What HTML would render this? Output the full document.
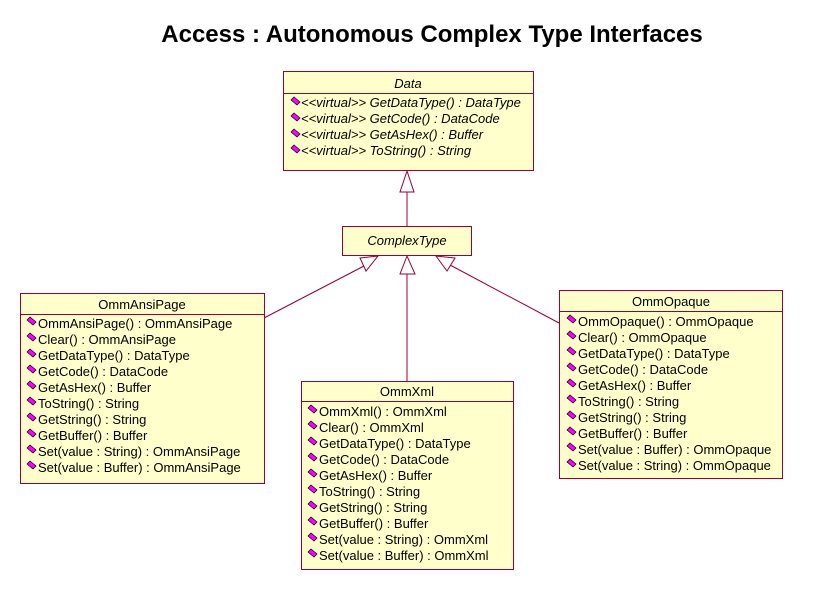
<!DOCTYPE html>
<html><head><style>
body{margin:0;background:#fff;}
svg text{font-family:"Liberation Sans",Arial,sans-serif;font-size:13px;fill:#000;}
</style></head><body>
<svg width="822" height="599" xmlns="http://www.w3.org/2000/svg">
<defs>
<g id="d"><polygon points="-5,-2 -2,-5 4,0 1,3" fill="#ff00ff" stroke="#000" stroke-width="0.7"/></g>
</defs>
<text x="432" y="42" text-anchor="middle" style="font-size:24px;font-weight:bold">Access : Autonomous Complex Type Interfaces</text>
<g stroke="#990033" fill="none" stroke-width="1">
<line x1="407" y1="192" x2="407" y2="226"/>
<line x1="407" y1="274" x2="407" y2="381"/>
<line x1="364" y1="266" x2="264" y2="318"/>
<line x1="450" y1="265" x2="559" y2="323"/>
<polygon points="407,171 400,192 414,192" fill="#fff"/>
<polygon points="407,256 400,274 415,274" fill="#fff"/>
<polygon points="360,258 378,256 366,271" fill="#fff"/>
<polygon points="436,256 455,258 447,271" fill="#fff"/>
</g>
<g stroke="#990033" fill="#ffffcc">
<rect x="283.5" y="71.5" width="250" height="99"/>
<rect x="342.5" y="226.5" width="129" height="29"/>
<rect x="20.5" y="293.5" width="244" height="190"/>
<rect x="301.5" y="381.5" width="212" height="188"/>
<rect x="559.5" y="290.5" width="223" height="188"/>
<line x1="283" y1="93.5" x2="534" y2="93.5"/>
<line x1="20" y1="314.5" x2="265" y2="314.5"/>
<line x1="301" y1="401.5" x2="514" y2="401.5"/>
<line x1="559" y1="311.5" x2="783" y2="311.5"/>
</g>
<g>
<text x="408" y="88" text-anchor="middle" style="font-style:italic">Data</text>
<text x="407" y="245" text-anchor="middle" style="font-style:italic">ComplexType</text>
<use href="#d" x="296" y="102"/><text x="301" y="107" style="font-style:italic">&lt;&lt;virtual&gt;&gt; GetDataType() : DataType</text>
<use href="#d" x="296" y="118"/><text x="301" y="123" style="font-style:italic">&lt;&lt;virtual&gt;&gt; GetCode() : DataCode</text>
<use href="#d" x="296" y="134"/><text x="301" y="139" style="font-style:italic">&lt;&lt;virtual&gt;&gt; GetAsHex() : Buffer</text>
<use href="#d" x="296" y="150"/><text x="301" y="155" style="font-style:italic">&lt;&lt;virtual&gt;&gt; ToString() : String</text>
</g>
<text x="142" y="309" text-anchor="middle">OmmAnsiPage</text>
<g>
<use href="#d" x="32" y="322"/><text x="38" y="328">OmmAnsiPage() : OmmAnsiPage</text>
<use href="#d" x="32" y="338"/><text x="38" y="344">Clear() : OmmAnsiPage</text>
<use href="#d" x="32" y="354"/><text x="38" y="360">GetDataType() : DataType</text>
<use href="#d" x="32" y="370"/><text x="38" y="376">GetCode() : DataCode</text>
<use href="#d" x="32" y="386"/><text x="38" y="392">GetAsHex() : Buffer</text>
<use href="#d" x="32" y="402"/><text x="38" y="408">ToString() : String</text>
<use href="#d" x="32" y="418"/><text x="38" y="424">GetString() : String</text>
<use href="#d" x="32" y="434"/><text x="38" y="440">GetBuffer() : Buffer</text>
<use href="#d" x="32" y="450"/><text x="38" y="456">Set(value : String) : OmmAnsiPage</text>
<use href="#d" x="32" y="466"/><text x="38" y="472">Set(value : Buffer) : OmmAnsiPage</text>
</g>
<text x="407" y="396" text-anchor="middle">OmmXml</text>
<g>
<use href="#d" x="313" y="410"/><text x="319" y="416">OmmXml() : OmmXml</text>
<use href="#d" x="313" y="426"/><text x="319" y="432">Clear() : OmmXml</text>
<use href="#d" x="313" y="442"/><text x="319" y="448">GetDataType() : DataType</text>
<use href="#d" x="313" y="458"/><text x="319" y="464">GetCode() : DataCode</text>
<use href="#d" x="313" y="474"/><text x="319" y="480">GetAsHex() : Buffer</text>
<use href="#d" x="313" y="490"/><text x="319" y="496">ToString() : String</text>
<use href="#d" x="313" y="506"/><text x="319" y="512">GetString() : String</text>
<use href="#d" x="313" y="522"/><text x="319" y="528">GetBuffer() : Buffer</text>
<use href="#d" x="313" y="538"/><text x="319" y="544">Set(value : String) : OmmXml</text>
<use href="#d" x="313" y="554"/><text x="319" y="560">Set(value : Buffer) : OmmXml</text>
</g>
<text x="671" y="306" text-anchor="middle">OmmOpaque</text>
<g>
<use href="#d" x="572" y="320"/><text x="578" y="326">OmmOpaque() : OmmOpaque</text>
<use href="#d" x="572" y="336"/><text x="578" y="342">Clear() : OmmOpaque</text>
<use href="#d" x="572" y="352"/><text x="578" y="358">GetDataType() : DataType</text>
<use href="#d" x="572" y="368"/><text x="578" y="374">GetCode() : DataCode</text>
<use href="#d" x="572" y="384"/><text x="578" y="390">GetAsHex() : Buffer</text>
<use href="#d" x="572" y="400"/><text x="578" y="406">ToString() : String</text>
<use href="#d" x="572" y="416"/><text x="578" y="422">GetString() : String</text>
<use href="#d" x="572" y="432"/><text x="578" y="438">GetBuffer() : Buffer</text>
<use href="#d" x="572" y="448"/><text x="578" y="454">Set(value : Buffer) : OmmOpaque</text>
<use href="#d" x="572" y="464"/><text x="578" y="470">Set(value : String) : OmmOpaque</text>
</g>
</svg>
</body></html>
